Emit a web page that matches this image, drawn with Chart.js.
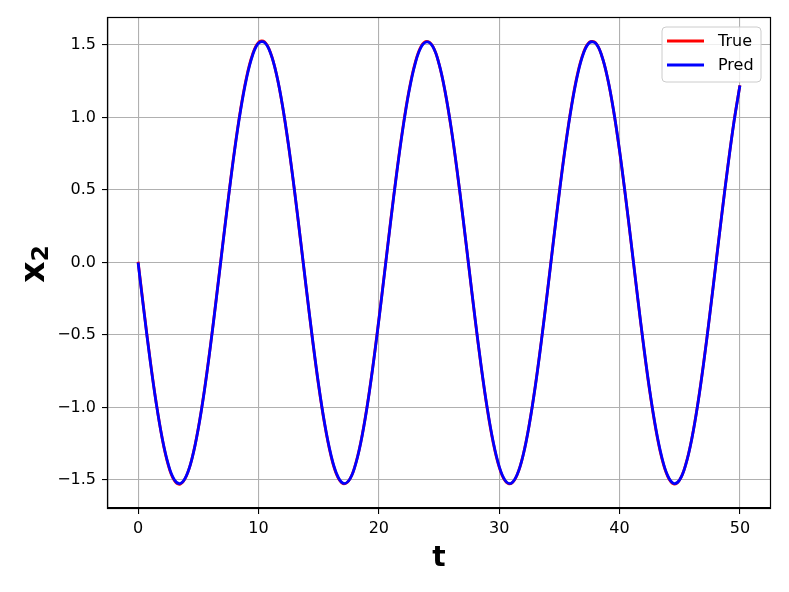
<!DOCTYPE html>
<html>
<head>
<meta charset="utf-8">
<script src="https://cdn.jsdelivr.net/npm/chart.js@4.4.1/dist/chart.umd.min.js"></script>
<style>
  html, body { margin: 0; padding: 0; background: #fff; }
  #wrap { width: 789px; height: 592px; }
</style>
</head>
<body>
<div id="wrap"><canvas id="chart-x2" width="789" height="592"></canvas></div>
<script>
// time grid, step 0.5 from 0 to 50
const T_STEP = 0.5;
const T_VALUES = Array.from({ length: 101 }, (_, i) => i * T_STEP);

// x2 (Pred, blue)
const PRED_X2 = [
  0.000, -0.346, -0.674, -0.967, -1.210, -1.389, -1.496, -1.524, -1.473, -1.346,
  -1.147, -0.890, -0.585, -0.250, 0.098, 0.440, 0.761, 1.041, 1.266, 1.426,
  1.512, 1.518, 1.445, 1.297, 1.081, 0.808, 0.494, 0.153, -0.195, -0.533,
  -0.844, -1.110, -1.318, -1.458, -1.521, -1.505, -1.411, -1.243, -1.010, -0.724,
  -0.400, -0.056, 0.292, 0.624, 0.923, 1.175, 1.365, 1.484, 1.522, 1.487,
  1.371, 1.183, 0.935, 0.637, 0.305, -0.042, -0.387, -0.712, -0.999, -1.235,
  -1.406, -1.503, -1.522, -1.462, -1.326, -1.119, -0.855, -0.546, -0.209, 0.140,
  0.481, 0.797, 1.071, 1.290, 1.441, 1.516, 1.513, 1.431, 1.274, 1.051,
  0.773, 0.454, 0.112, -0.237, -0.572, -0.878, -1.138, -1.339, -1.470, -1.524,
  -1.498, -1.394, -1.218, -0.978, -0.687, -0.360, -0.014, 0.332, 0.662, 0.965,
  1.220
];

// x2 (True, red) - almost the same, a hair off near the turns
const TRUE_X2 = [
  0.005, -0.340, -0.670, -0.965, -1.212, -1.395, -1.502, -1.528, -1.474, -1.344,
  -1.143, -0.885, -0.580, -0.245, 0.103, 0.446, 0.768, 1.049, 1.274, 1.433,
  1.518, 1.522, 1.446, 1.296, 1.078, 0.804, 0.490, 0.150, -0.199, -0.538,
  -0.850, -1.116, -1.324, -1.464, -1.524, -1.505, -1.409, -1.240, -1.006, -0.720,
  -0.395, -0.051, 0.298, 0.630, 0.930, 1.182, 1.371, 1.489, 1.525, 1.488,
  1.370, 1.180, 0.931, 0.633, 0.301, -0.046, -0.392, -0.717, -1.005, -1.241,
  -1.411, -1.507, -1.524, -1.462, -1.324, -1.116, -0.851, -0.542, -0.205, 0.145,
  0.487, 0.803, 1.078, 1.297, 1.447, 1.520, 1.515, 1.431, 1.272, 1.048,
  0.769, 0.450, 0.108, -0.241, -0.577, -0.884, -1.144, -1.345, -1.475, -1.527,
  -1.498, -1.392, -1.215, -0.974, -0.683, -0.356, -0.010, 0.336, 0.666, 0.968,
  1.222
];

const X_TICKS = [0, 10, 20, 30, 40, 50];
const Y_TICKS = [-1.5, -1.0, -0.5, 0.0, 0.5, 1.0, 1.5];
const X_RANGE = [-2.5, 52.5];
const Y_RANGE = [-1.693, 1.686];

const SERIES = [
  { label: 'True', values: TRUE_X2, color: '#ff0000', order: 1 },
  { label: 'Pred', values: PRED_X2, color: '#0000ff', order: 0 }
];

const FONT = 'DejaVu Sans, sans-serif';

function toPoints(values) {
  return values.map((v, i) => ({ x: T_VALUES[i], y: v }));
}

function fmtTick(v) {
  return Number(v).toFixed(1).replace('-', '\u2212');
}

// frame + axis titles + legend box, matplotlib style
const decorPlugin = {
  id: 'mplDecor',
  afterDraw(chart) {
    const { ctx, chartArea } = chart;
    const { left, right, top, bottom } = chartArea;
    ctx.save();

    // spines
    ctx.strokeStyle = '#000';
    ctx.lineWidth = 1.2;
    ctx.strokeRect(Math.round(left) - 0.5, Math.round(top) - 0.5, Math.round(right - left) + 1, Math.round(bottom - top) + 1);

    // x title
    ctx.fillStyle = '#000';
    ctx.font = `bold 28px ${FONT}`;
    ctx.textAlign = 'center';
    ctx.textBaseline = 'alphabetic';
    ctx.fillText('t', (left + right) / 2, 566);

    // y title: bold x with subscript 2, rotated
    ctx.save();
    ctx.translate(44, 264);
    ctx.rotate(-Math.PI / 2);
    ctx.textAlign = 'left';
    ctx.font = `bold 33px ${FONT}`;
    const wx = ctx.measureText('x').width;
    ctx.font = `bold 23px ${FONT}`;
    const w2 = ctx.measureText('2').width;
    const start = -(wx + w2) / 2;
    ctx.font = `bold 33px ${FONT}`;
    ctx.fillText('x', start, 0);
    ctx.font = `bold 23px ${FONT}`;
    ctx.fillText('2', start + wx, 4);
    ctx.restore();

    // legend
    const bx = 662, by = 27, bw = 99, bh = 55, r = 4;
    ctx.beginPath();
    ctx.moveTo(bx + r, by);
    ctx.arcTo(bx + bw, by, bx + bw, by + bh, r);
    ctx.arcTo(bx + bw, by + bh, bx, by + bh, r);
    ctx.arcTo(bx, by + bh, bx, by, r);
    ctx.arcTo(bx, by, bx + bw, by, r);
    ctx.closePath();
    ctx.fillStyle = 'rgba(255,255,255,0.8)';
    ctx.fill();
    ctx.strokeStyle = '#cccccc';
    ctx.lineWidth = 1;
    ctx.stroke();

    ctx.font = `16px ${FONT}`;
    ctx.textAlign = 'left';
    ctx.textBaseline = 'middle';
    chart.data.datasets.forEach((ds, i) => {
      const y = 41 + i * 24;
      ctx.strokeStyle = ds.borderColor;
      ctx.lineWidth = 2.8;
      ctx.beginPath();
      ctx.moveTo(667, y);
      ctx.lineTo(704, y);
      ctx.stroke();
      ctx.fillStyle = '#000';
      ctx.fillText(ds.label, 718, y + 1);
    });

    ctx.restore();
  }
};

const canvas = document.getElementById('chart-x2');
new Chart(canvas, {
  type: 'line',
  data: {
    datasets: SERIES.map((s) => ({
      label: s.label,
      data: toPoints(s.values),
      borderColor: s.color,
      backgroundColor: s.color,
      borderWidth: 2.8,
      pointRadius: 0,
      tension: 0.4,
      fill: false,
      order: s.order
    }))
  },
  options: {
    responsive: false,
    animation: false,
    devicePixelRatio: 1,
    layout: { padding: { left: 0, right: 19, top: 18, bottom: 0 } },
    plugins: {
      legend: { display: false },
      tooltip: { enabled: false }
    },
    scales: {
      x: {
        type: 'linear',
        min: X_RANGE[0],
        max: X_RANGE[1],
        afterBuildTicks: (scale) => { scale.ticks = X_TICKS.map((v) => ({ value: v })); },
        afterFit: (scale) => { scale.height = 84; },
        grid: { color: '#b0b0b0', lineWidth: 1.1, tickLength: 6, tickColor: '#000', tickWidth: 1.1 },
        border: { color: '#000', width: 1.2 },
        ticks: {
          color: '#000',
          font: { family: FONT, size: 16 },
          padding: 5,
          maxRotation: 0,
          callback: (v) => String(v)
        }
      },
      y: {
        type: 'linear',
        min: Y_RANGE[0],
        max: Y_RANGE[1],
        afterBuildTicks: (scale) => { scale.ticks = Y_TICKS.map((v) => ({ value: v })); },
        afterFit: (scale) => { scale.width = 108; },
        grid: { color: '#b0b0b0', lineWidth: 1.1, tickLength: 6, tickColor: '#000', tickWidth: 1.1 },
        border: { color: '#000', width: 1.2 },
        ticks: {
          color: '#000',
          font: { family: FONT, size: 16 },
          padding: 6,
          callback: (v) => fmtTick(v)
        }
      }
    }
  },
  plugins: [decorPlugin]
});
</script>
</body>
</html>
